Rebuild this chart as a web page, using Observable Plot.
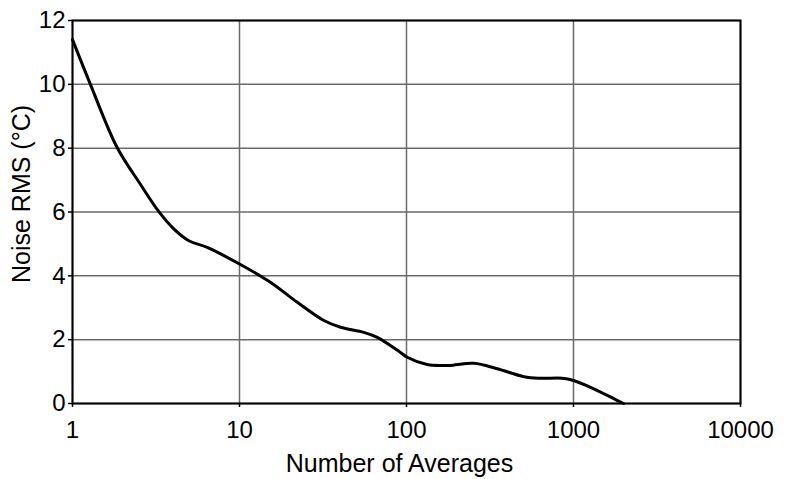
<!DOCTYPE html>
<html>
<head>
<meta charset="utf-8">
<script src="https://cdn.jsdelivr.net/npm/d3@7"></script>
<script src="https://cdn.jsdelivr.net/npm/@observablehq/plot@0.6"></script>
<style>
  html, body { margin: 0; padding: 0; background: #fff; }
</style>
</head>
<body>
<div id="chart"></div>
<script>
// Data
const averages = [1, 1.28, 1.85, 2.55, 3.29, 4.04, 4.97, 6.41, 10, 15.3, 22.2, 32, 40.3, 55.5, 66.8, 92, 101, 133, 167, 183, 253, 349, 505, 634, 855, 1000, 1324, 1742, 1992];
const noiseRms = [11.4, 10.0, 8.02, 6.87, 6.01, 5.47, 5.10, 4.89, 4.37, 3.80, 3.17, 2.60, 2.39, 2.23, 2.07, 1.60, 1.45, 1.22, 1.19, 1.19, 1.26, 1.09, 0.84, 0.79, 0.79, 0.72, 0.46, 0.15, 0];
const xTicks = [1, 10, 100, 1000, 10000];
const yTicks = [0, 2, 4, 6, 8, 10, 12];
const xTitle = "Number of Averages";
const yTitle = "Noise RMS (°C)";

const data = averages.map((a, i) => ({a, v: noiseRms[i]}));

const chart = Plot.plot({
  width: 796,
  height: 479,
  marginLeft: 72,
  marginRight: 56,
  marginTop: 20,
  marginBottom: 76,
  style: {fontFamily: "'Liberation Sans', Arial, sans-serif", fontSize: "24px", color: "#000", background: "#fff"},
  x: {type: "log", domain: [1, 10000]},
  y: {domain: [0, 12]},
  marks: [
    Plot.gridX(xTicks, {stroke: "#6a6a6a", strokeOpacity: 1, strokeWidth: 1.5}),
    Plot.gridY(yTicks, {stroke: "#6a6a6a", strokeOpacity: 1, strokeWidth: 1.5}),
    Plot.axisX(xTicks, {tickSize: 4, tickPadding: 13, tickFormat: d => String(d), label: null, strokeWidth: 1.5}),
    Plot.axisY(yTicks, {tickSize: 4, tickPadding: 3, tickFormat: d => String(d), label: null, strokeWidth: 1.5}),
    Plot.frame({stroke: "#000", strokeWidth: 2}),
    Plot.line(data, {x: "a", y: "v", curve: "catmull-rom", stroke: "#000", strokeWidth: 3}),
    Plot.text([xTitle], {frameAnchor: "bottom", dx: -7, dy: 60, lineAnchor: "middle", textAnchor: "middle", fontSize: 25, fill: "#000"}),
    Plot.text([yTitle], {frameAnchor: "left", dx: -51, dy: -18, rotate: -90, lineAnchor: "middle", textAnchor: "middle", fontSize: 25, fill: "#000"})
  ]
});
document.getElementById("chart").appendChild(chart);
</script>
</body>
</html>
